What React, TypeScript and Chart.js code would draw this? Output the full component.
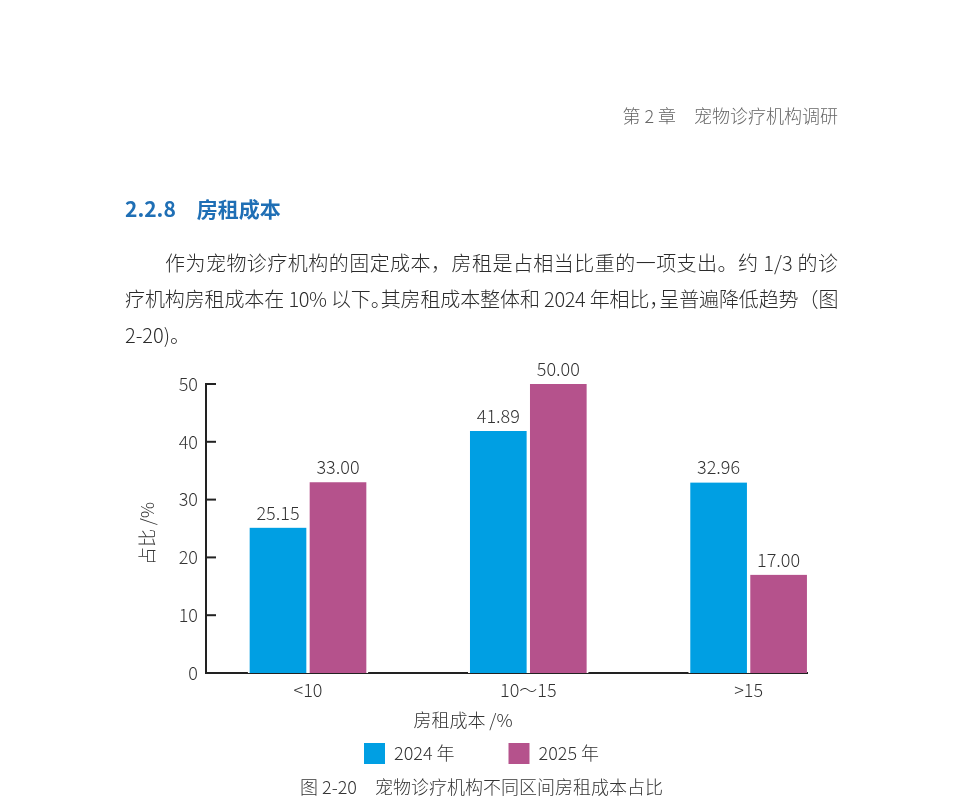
import React, { useEffect, useRef } from 'react';
import { Chart, registerables } from 'chart.js';

Chart.register(...registerables);

// ---- data ----
const categories = ['<10', '10～15', '>15'];
const seriesNames = ['2024 年', '2025 年'];
const values2024 = [25.15, 41.89, 32.96];
const values2025 = [33.0, 50.0, 17.0];
const yTickValues = [0, 10, 20, 30, 40, 50];

const xTitle = '房租成本 /%';
const yTitle = '占比 /%';

const headerText = '第 2 章　宠物诊疗机构调研';
const sectionTitle = '2.2.8　房租成本';
const paragraphLines = [
  '作为宠物诊疗机构的固定成本，房租是占相当比重的一项支出。约 1/3 的诊',
  '疗机构房租成本在 10% 以下。其房租成本整体和 2024 年相比，呈普遍降低趋势（图',
  '2-20)。',
];
const captionText = '图 2-20　宠物诊疗机构不同区间房租成本占比';

// ---- styles ----
const FONT = "'Noto Sans CJK SC', 'Noto Sans', sans-serif";
const BLUE = '#009fe3';
const MAGENTA = '#b5528c';
const TEXT = '#333333';
const AXIS = '#222222';

const decorPlugin = {
  id: 'decor',
  afterDraw(chart: any) {
    const { ctx, chartArea, scales } = chart;
    const y = scales.y;
    ctx.save();
    // inward tick marks on the y axis
    ctx.strokeStyle = AXIS;
    ctx.lineWidth = 2;
    y.ticks.forEach((t: any) => {
      if (t.value === 0) return;
      const py = y.getPixelForValue(t.value);
      ctx.beginPath();
      ctx.moveTo(chartArea.left, py);
      ctx.lineTo(chartArea.left + 10, py);
      ctx.stroke();
    });
    // value labels
    ctx.font = `300 18px ${FONT}`;
    ctx.fillStyle = TEXT;
    ctx.textAlign = 'center';
    ctx.textBaseline = 'alphabetic';
    chart.data.datasets.forEach((ds: any, di: number) => {
      const meta = chart.getDatasetMeta(di);
      meta.data.forEach((el: any, i: number) => {
        ctx.fillText(Number(ds.data[i].y).toFixed(2), el.x, el.y - 8);
      });
    });
    // axis titles
    ctx.textBaseline = 'middle';
    ctx.fillText(xTitle, chartArea.left + 257, chartArea.bottom + 47);
    ctx.translate(chartArea.left - 59, (chartArea.top + chartArea.bottom) / 2 + 5);
    ctx.rotate(-Math.PI / 2);
    ctx.fillText(yTitle, 0, 0);
    ctx.restore();
  },
};

function BarChart() {
  const ref = useRef<HTMLCanvasElement | null>(null);
  useEffect(() => {
    if (!ref.current) return;
    const barStyle = {
      borderColor: '#ffffff',
      borderWidth: { left: 2, right: 2, top: 0, bottom: 0 },
      borderSkipped: false,
      barThickness: 60,
    };
    const chart = new Chart(ref.current, {
      type: 'bar',
      data: {
        datasets: [
          {
            label: seriesNames[0],
            data: values2024.map((v, i) => ({ x: i, y: v })),
            backgroundColor: BLUE,
            ...barStyle,
          },
          {
            label: seriesNames[1],
            data: values2025.map((v, i) => ({ x: i, y: v })),
            backgroundColor: MAGENTA,
            ...barStyle,
          },
        ],
      },
      options: {
        responsive: false,
        maintainAspectRatio: false,
        animation: false,
        layout: { padding: { left: 156, right: 152, top: 384, bottom: 31 } },
        plugins: {
          legend: {
            position: 'bottom',
            labels: {
              boxWidth: 21,
              boxHeight: 21,
              padding: 36,
              color: TEXT,
              font: { size: 18, family: FONT, weight: '300' },
              generateLabels: (chart: any) =>
                Chart.defaults.plugins.legend.labels
                  .generateLabels(chart)
                  .map((item: any, i: number) => ({
                    ...item,
                    lineWidth: 0,
                    text: i === 0 ? item.text + '　' : item.text,
                  })),
            },
          },
          tooltip: { enabled: false },
        },
        scales: {
          x: {
            type: 'linear',
            offset: false,
            min: -0.463,
            max: 2.265,
            z: 1,
            grid: { display: false, drawTicks: false, offset: false },
            border: { display: true, color: AXIS, width: 2 },
            afterBuildTicks: (s: any) => {
              s.ticks = categories.map((_, i) => ({ value: i }));
            },
            afterFit: (s: any) => {
              s.height = 34;
            },
            ticks: {
              autoSkip: false,
              maxRotation: 0,
              padding: 6,
              color: TEXT,
              font: { size: 18, family: FONT, weight: '300' },
              callback: (v: any) => categories[Math.round(Number(v))] ?? '',
            },
          },
          y: {
            type: 'linear',
            min: yTickValues[0],
            max: yTickValues[yTickValues.length - 1],
            grid: { display: false, drawTicks: false },
            border: { display: true, color: AXIS, width: 2 },
            afterBuildTicks: (s: any) => {
              s.ticks = yTickValues.map((v) => ({ value: v }));
            },
            afterFit: (s: any) => {
              s.width = 50;
            },
            ticks: {
              padding: 8,
              color: TEXT,
              font: { size: 18, family: FONT, weight: '300' },
            },
          },
        },
      },
      plugins: [decorPlugin],
    } as any);
    return () => chart.destroy();
  }, []);
  return (
    <canvas
      ref={ref}
      width={959}
      height={805}
      style={{ position: 'absolute', left: 0, top: 0, width: 959, height: 805 }}
    />
  );
}

// wrap 。and ， in spans with half-width punctuation (for the dense second line)
function compressed(line: string) {
  return line.split(/([。，])/).map((part, i) =>
    part === '。' || part === '，' ? (
      <span key={i} style={{ fontFeatureSettings: '"halt"' }}>
        {part}
      </span>
    ) : (
      <React.Fragment key={i}>{part}</React.Fragment>
    )
  );
}

export default function App() {
  const base: React.CSSProperties = {
    position: 'absolute',
    fontFamily: FONT,
    whiteSpace: 'nowrap',
    margin: 0,
    fontWeight: 300,
  };
  return (
    <div
      style={{
        position: 'absolute',
        left: 0,
        top: 0,
        width: 959,
        height: 805,
        background: '#ffffff',
        overflow: 'hidden',
      }}
    >
      <BarChart />
      <div
        style={{
          ...base,
          right: 959 - 838,
          top: 106,
          fontSize: 18,
          lineHeight: '18px',
          color: '#666666',
        }}
      >
        {headerText}
      </div>
      <div
        style={{
          ...base,
          left: 125,
          top: 198,
          fontSize: 21,
          lineHeight: '21px',
          fontWeight: 700,
          color: '#1f6fb5',
        }}
      >
        {sectionTitle}
      </div>
      {paragraphLines.map((line, i) => (
        <div
          key={i}
          style={{
            ...base,
            left: 125,
            top: 245 + i * 36,
            width: 713,
            fontSize: 20,
            lineHeight: '36px',
            color: '#2b2b2b',
            textIndent: i === 0 ? 40 : 0,
            textAlign: i < 2 ? 'justify' : 'left',
            textAlignLast: i < 2 ? 'justify' : 'left',
            letterSpacing: i === 1 ? '-0.4px' : 'normal',
          }}
        >
          {i === 1 ? compressed(line) : line}
        </div>
      ))}
      <div
        style={{
          ...base,
          left: 0,
          width: 963,
          top: 777,
          fontSize: 18,
          lineHeight: '18px',
          textAlign: 'center',
          color: TEXT,
        }}
      >
        {captionText}
      </div>
    </div>
  );
}
